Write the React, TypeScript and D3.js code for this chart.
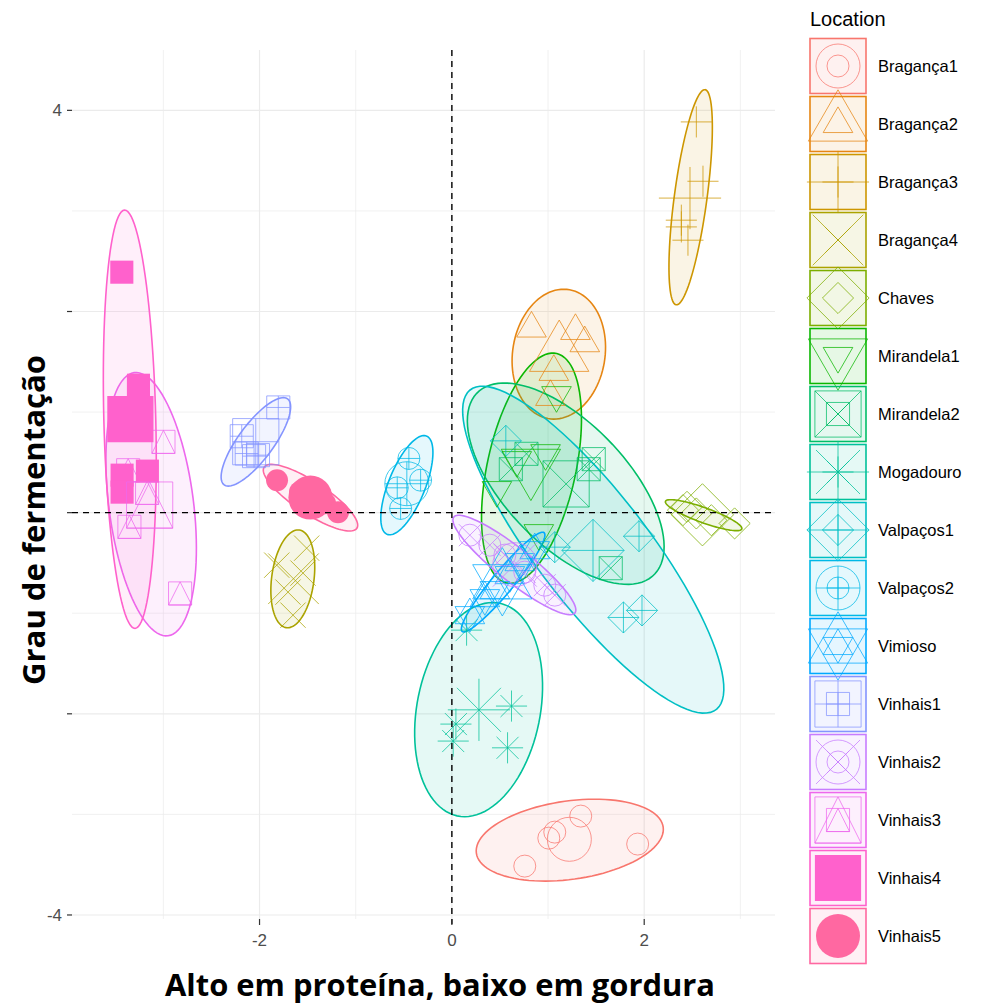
import React from 'react';
import * as d3 from 'd3';

const width = 981, height = 1005;

const locations = ['Bragança1', 'Bragança2', 'Bragança3', 'Bragança4', 'Chaves', 'Mirandela1', 'Mirandela2', 'Mogadouro',
  'Valpaços1', 'Valpaços2', 'Vimioso', 'Vinhais1', 'Vinhais2', 'Vinhais3', 'Vinhais4', 'Vinhais5'];
const colors = ['#F8766D', '#E68613', '#CD9600', '#ABA300', '#7CAE00', '#0CB702', '#00BE67', '#00C19A',
  '#00BFC4', '#00B8E7', '#00A9FF', '#8494FF', '#C77CFF', '#ED68ED', '#FF61CC', '#FF68A1'];
// R pch shape codes per location
const shapes = [1, 2, 3, 4, 5, 6, 7, 8, 9, 10, 11, 12, 13, 14, 15, 16];

// individual scores [Dim1, Dim2]
const braganca1 = [[0.758, -3.514], [1.008, -3.236], [1.070, -3.176], [1.340, -3.017], [1.932, -3.295]];
const braganca2 = [[0.828, 1.831], [1.285, 1.807], [1.382, 1.685], [1.060, 1.400], [1.025, 1.151]];
const braganca3 = [[2.542, 3.885], [2.611, 3.295], [2.386, 2.908], [2.386, 2.841], [2.455, 2.709]];
const braganca4 = [[-1.510, -0.353], [-1.821, -0.522], [-1.548, -0.601], [-1.652, -1.019], [-1.704, -0.790]];
const chaves = [[2.445, 0.058], [2.542, -0.008], [2.403, 0.025], [2.940, -0.107], [2.698, -0.075]];
const mirandela1 = [[1.088, 1.168], [0.974, 0.591], [0.675, 0.522], [0.468, 0.224], [0.904, -0.204]];
const mirandela2 = [[1.475, 0.532], [1.423, 0.432], [0.613, 0.432], [0.776, 0.585], [1.652, -0.552]];
const mogadouro = [[0.153, -1.168], [0.620, -1.923], [0.042, -2.102], [0.014, -2.271], [0.579, -2.338]];
const valpacos1 = [[0.561, 0.714], [1.946, -0.234], [1.784, -1.042], [1.977, -0.972], [1.070, -0.343]];
const valpacos2 = [[-0.447, 0.539], [-0.325, 0.323], [-0.568, 0.247], [-0.533, 0.042]];
const vimioso = [[0.187, -1.019], [0.343, -0.850], [0.447, -0.770], [0.603, -0.621], [0.706, -0.492], [0.862, -0.373]];
const vinhais1 = [[-1.805, 1.046], [-2.185, 0.760], [-2.133, 0.588], [-2.016, 0.572], [-2.057, 0.562]];
const vinhais2 = [[0.187, -0.224], [0.395, -0.323], [0.551, -0.422], [0.758, -0.591], [0.966, -0.721], [1.070, -0.820]];
const vinhais3 = [[-2.999, 0.704], [-3.169, 0.197], [-3.353, -0.141], [-2.826, -0.803], [-3.366, 0.422]];
const vinhais4 = [[-3.432, 2.391], [-3.259, 1.267], [-3.429, 0.373], [-3.429, 0.204], [-3.166, 0.413]];
const vinhais5 = [[-1.818, 0.323], [-1.579, 0.204], [-1.319, 0.094], [-1.184, 0.005], [-1.455, 0.124]];
const scores = [braganca1, braganca2, braganca3, braganca4, chaves, mirandela1, mirandela2, mogadouro,
  valpacos1, valpacos2, vimioso, vinhais1, vinhais2, vinhais3, vinhais4, vinhais5];

// confidence ellipses: centre, semi-axes, rotation (deg)
const ellCx = [1.226, 1.112, 2.483, -1.654, 2.618, 0.828, 1.184, 0.278, 1.47, -0.468, 0.533, -2.038, 0.65, -3.127, -3.349, -1.47];
const ellCy = [-3.256, 1.576, 3.136, -0.658, -0.025, 0.442, 0.288, -1.958, -0.368, 0.273, -0.69, 0.704, -0.52, 0.084, 0.929, 0.149];
const ellA = [0.98, 0.65, 1.08, 0.49, 0.42, 1.17, 1.29, 1.08, 2.04, 0.53, 0.65, 0.54, 0.79, 1.32, 2.08, 0.57];
const ellB = [0.39, 0.48, 0.17, 0.22, 0.075, 0.46, 0.62, 0.64, 0.57, 0.19, 0.11, 0.18, 0.17, 0.44, 0.27, 0.16];
const ellAngle = [7.5, 80, 82, 82, -19, 77, -44, 78, -51, 67, 49, 52, -37, 97.7, 91.5, -32];

const xTicks = [-2, 0, 2];
const yTicks = [-4, -2, 0, 2, 4];
const yTickLabels = ['-4', '', '', '', '4'];

const x = d3.scaleLinear().domain([-3.95, 3.36]).range([72, 775]);
const y = d3.scaleLinear().domain([-4.04, 4.6]).range([919, 50]);

function glyphPath(shape: number, cx: number, cy: number, r: number) {
  const s = r * 1.05, d = r * 1.414;
  const t0 = r * 1.555, t1 = r * 1.347, t2 = r * 0.778;
  const triUp = `M${cx},${cy - t0}L${cx + t1},${cy + t2}L${cx - t1},${cy + t2}Z`;
  const triDown = `M${cx},${cy + t0}L${cx + t1},${cy - t2}L${cx - t1},${cy - t2}Z`;
  const square = `M${cx - s},${cy - s}H${cx + s}V${cy + s}H${cx - s}Z`;
  const diamond = `M${cx},${cy - d}L${cx + d},${cy}L${cx},${cy + d}L${cx - d},${cy}Z`;
  const plus = (h: number) => `M${cx - h},${cy}H${cx + h}M${cx},${cy - h}V${cy + h}`;
  const cross = (h: number) => `M${cx - h},${cy - h}L${cx + h},${cy + h}M${cx - h},${cy + h}L${cx + h},${cy - h}`;
  switch (shape) {
    case 1: return { circle: true, path: '' };
    case 2: return { path: triUp };
    case 3: return { path: plus(d) };
    case 4: return { path: cross(r * 1.15) };
    case 5: return { path: diamond };
    case 6: return { path: triDown };
    case 7: return { path: square + cross(s) };
    case 8: return { path: plus(d) + cross(r) };
    case 9: return { path: diamond + plus(d) };
    case 10: return { circle: true, path: plus(r) };
    case 11: return { path: triUp + triDown };
    case 12: return { path: square + plus(s) };
    case 13: return { circle: true, path: cross(r) };
    case 14: return { path: square + `M${cx},${cy - s}L${cx + s},${cy + s}L${cx - s},${cy + s}Z` };
    case 15: return { path: square, filled: true };
    default: return { circle: true, path: '', filled: true };
  }
}

function Glyph({ shape, cx, cy, r, color }: { shape: number; cx: number; cy: number; r: number; color: string }) {
  const g: any = glyphPath(shape, cx, cy, r);
  if (g.filled) {
    return g.circle
      ? <circle cx={cx} cy={cy} r={r} fill={color} />
      : <path d={g.path} fill={color} />;
  }
  return (
    <g fill="none" stroke={color} strokeWidth={1} strokeOpacity={0.75}>
      {g.circle && <circle cx={cx} cy={cy} r={r} />}
      {g.path && <path d={g.path} />}
    </g>
  );
}

function ellipsePath(i: number) {
  const th = (ellAngle[i] * Math.PI) / 180;
  const pts = d3.range(0, 101).map(k => {
    const t = (k / 100) * 2 * Math.PI;
    const dx = ellA[i] * Math.cos(t), dy = ellB[i] * Math.sin(t);
    return [x(ellCx[i] + dx * Math.cos(th) - dy * Math.sin(th)), y(ellCy[i] + dx * Math.sin(th) + dy * Math.cos(th))] as [number, number];
  });
  return d3.line()(pts) + 'Z';
}

export default function App() {
  const [x0, x1] = x.range();
  const [y0, y1] = y.range();
  const gridX = d3.range(-3, 4);
  const gridY = d3.range(-4, 5);
  const legendTop = 38.5, legendStep = 58;

  return (
    <svg width={width} height={height} style={{ position: 'absolute', left: 0, top: 0, background: '#fff' }}
      fontFamily="'Liberation Sans', Arial, sans-serif">
      {/* grid */}
      {gridX.map(v => (
        <line key={'gx' + v} x1={x(v)} x2={x(v)} y1={y1} y2={y0} stroke="#EBEBEB" strokeWidth={v % 2 === 0 ? 1.2 : 0.7} />
      ))}
      {gridY.map(v => (
        <line key={'gy' + v} x1={x0} x2={x1} y1={y(v)} y2={y(v)} stroke="#EBEBEB" strokeWidth={v % 2 === 0 ? 1.2 : 0.7} />
      ))}

      {/* ellipses */}
      {locations.map((loc, i) => (
        <path key={'e' + loc} d={ellipsePath(i)} fill={colors[i]} fillOpacity={0.1} stroke={colors[i]} strokeWidth={1.6} />
      ))}

      {/* individuals */}
      {scores.map((grp, i) => grp.map((p, j) => (
        <Glyph key={'p' + i + '-' + j} shape={shapes[i]} cx={x(p[0])} cy={y(p[1])} r={11} color={colors[i]} />
      )))}

      {/* group means */}
      {scores.map((grp, i) => (
        <Glyph key={'m' + i} shape={shapes[i]} cx={x(d3.mean(grp, p => p[0]) as number)} cy={y(d3.mean(grp, p => p[1]) as number)}
          r={22} color={colors[i]} />
      ))}

      {/* reference lines */}
      <line x1={x0} x2={x1} y1={y(0)} y2={y(0)} stroke="#000" strokeWidth={1.4} strokeDasharray="6,5" />
      <line x1={x(0)} x2={x(0)} y1={y1} y2={y0 + 5} stroke="#000" strokeWidth={1.4} strokeDasharray="6,5" />

      {/* axes */}
      {xTicks.map(v => (
        <g key={'xt' + v}>
          <line x1={x(v)} x2={x(v)} y1={y0} y2={y0 + 6} stroke="#333" strokeWidth={1.2} />
          <text x={x(v)} y={946} textAnchor="middle" fontSize={17} fill="#4D4D4D">{v}</text>
        </g>
      ))}
      {yTicks.map((v, i) => (
        <g key={'yt' + v}>
          <line x1={x0 - 5} x2={x0} y1={y(v)} y2={y(v)} stroke="#333" strokeWidth={1.2} />
          <text x={62} y={y(v)} dy="0.35em" textAnchor="end" fontSize={17} fill="#4D4D4D">{yTickLabels[i]}</text>
        </g>
      ))}

      {/* axis titles */}
      <text x={440} y={996} textAnchor="middle" fontFamily="'Open Sans', sans-serif" fontWeight={700} fontSize={30}
        textLength={550} lengthAdjust="spacingAndGlyphs">Alto em proteína, baixo em gordura</text>
      <text transform="translate(45,520) rotate(-90)" textAnchor="middle" fontFamily="'Open Sans', sans-serif" fontWeight={700}
        fontSize={30} textLength={330} lengthAdjust="spacingAndGlyphs">Grau de fermentação</text>

      {/* legend */}
      <text x={810} y={26} fontSize={20} fill="#000">Location</text>
      {locations.map((loc, i) => {
        const top = legendTop + i * legendStep;
        const cy = top + 27.5;
        return (
          <g key={'l' + loc}>
            <rect x={810} y={top} width={56} height={55} fill={colors[i]} fillOpacity={0.1} stroke={colors[i]} strokeWidth={1.6} />
            <Glyph shape={shapes[i]} cx={838} cy={cy} r={11} color={colors[i]} />
            <Glyph shape={shapes[i]} cx={838} cy={cy} r={22} color={colors[i]} />
            <text x={878} y={cy} dy="0.35em" fontSize={16.5} fill="#000">{loc}</text>
          </g>
        );
      })}
    </svg>
  );
}
